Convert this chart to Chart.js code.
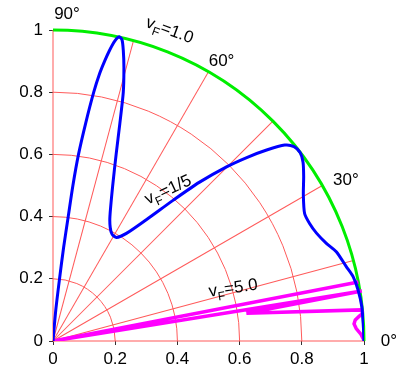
<!DOCTYPE html>
<html lang="en">
<head>
  <meta charset="UTF-8" />
  <title>Polar velocity plot</title>
  <style>
  body {
    margin: 0;
    padding: 0;
    background: #ffffff;
  }
  #chartBox {
    width: 409px;
    height: 374px;
  }
  </style>
  <script src="https://cdn.jsdelivr.net/npm/chart.js"></script>
</head>
<body>
  <div id="chartBox">
    <canvas id="polarChart" width="409" height="374"></canvas>
  </div>

  <script>
  // axis ticks
  const tickValues = [0, 0.2, 0.4, 0.6, 0.8, 1];
  const tickLabels = ['0', '0.2', '0.4', '0.6', '0.8', '1'];

  // polar grid
  const ringRadii = [0.2, 0.4, 0.6, 0.8];
  const spokeAngles = [0, 15, 30, 45, 60, 75, 90];
  const outerRadius = 1;
  const angleLabels = ['0°', '30°', '60°', '90°'];
  const curveNames = ['1.0', '1/5', '5.0'];

  // v_F = 1.0 and 1/5 curve (blue)
  const blueX = [0, 0.009, 0.021, 0.034, 0.049, 0.064, 0.082, 0.105, 0.131, 0.15, 0.166, 0.182, 0.199, 0.213,
    0.222, 0.226, 0.228, 0.226, 0.215, 0.203, 0.192, 0.183, 0.184, 0.19, 0.204, 0.236, 0.3, 0.387, 0.47,
    0.558, 0.623, 0.687, 0.745, 0.775, 0.795, 0.804, 0.806, 0.805, 0.809, 0.825, 0.848, 0.879, 0.911,
    0.943, 0.965, 0.981, 0.993, 0.998, 1.0];
  const blueY = [0, 0.1, 0.2, 0.3, 0.4, 0.5, 0.6, 0.7, 0.8, 0.86, 0.9, 0.935, 0.965, 0.978,
    0.968, 0.935, 0.88, 0.8, 0.7, 0.6, 0.5, 0.4, 0.365, 0.343, 0.333, 0.346, 0.39, 0.453, 0.51,
    0.56, 0.59, 0.614, 0.63, 0.625, 0.605, 0.575, 0.53, 0.47, 0.41, 0.378, 0.346, 0.314, 0.287,
    0.239, 0.207, 0.164, 0.11, 0.046, 0];

  // v_F = 5.0 curve (magenta)
  const magentaX = [1.0, 0.99, 0.975, 0.968, 0.972, 0.985, 0.997, 0.99, 0.622, 0.993, 0, 0.982];
  const magentaY = [0.003, 0.022, 0.04, 0.055, 0.068, 0.08, 0.09, 0.1, 0.089, 0.161, 0, 0.19];

  const toPoints = (xs, ys) => xs.map((x, i) => ({ x: x, y: ys[i] }));

  const FONT = '"Liberation Sans", Arial, sans-serif';
  const GRID_RED = '#ff5a5a';

  // draws red rings/spokes and the green unit arc under the curves
  const polarGrid = {
    id: 'polarGrid',
    beforeDatasetsDraw(chart) {
      const { ctx, scales } = chart;
      const xs = scales.x, ys = scales.y;
      const cx = xs.getPixelForValue(0);
      const cy = ys.getPixelForValue(0);
      const px = r => xs.getPixelForValue(r) - cx;
      const py = r => cy - ys.getPixelForValue(r);

      ctx.save();
      ctx.lineWidth = 1;
      ctx.strokeStyle = GRID_RED;
      ringRadii.forEach(r => {
        ctx.beginPath();
        ctx.ellipse(cx, cy, px(r), py(r), 0, -Math.PI / 2, 0);
        ctx.stroke();
      });

      // spokes as thin filled strips
      ctx.fillStyle = GRID_RED;
      spokeAngles.forEach(a => {
        const t = a * Math.PI / 180;
        const ex = xs.getPixelForValue(outerRadius * Math.cos(t));
        const ey = ys.getPixelForValue(outerRadius * Math.sin(t));
        const len = Math.hypot(ex - cx, ey - cy);
        const nx = -(ey - cy) / len * 0.5;
        const ny = (ex - cx) / len * 0.5;
        ctx.beginPath();
        ctx.moveTo(cx + nx, cy + ny);
        ctx.lineTo(ex + nx, ey + ny);
        ctx.lineTo(ex - nx, ey - ny);
        ctx.lineTo(cx - nx, cy - ny);
        ctx.closePath();
        ctx.fill();
      });

      ctx.strokeStyle = '#00ee00';
      ctx.lineWidth = 3;
      ctx.beginPath();
      ctx.ellipse(cx, cy, px(outerRadius), py(outerRadius), 0, -Math.PI / 2, 0);
      ctx.stroke();
      ctx.restore();
    },
    afterDatasetsDraw(chart) {
      const { ctx, scales } = chart;
      const xs = scales.x, ys = scales.y;
      const P = (x, y) => [xs.getPixelForValue(x), ys.getPixelForValue(y)];

      ctx.save();
      ctx.fillStyle = '#000';
      ctx.textAlign = 'center';
      ctx.textBaseline = 'middle';
      ctx.font = '17px ' + FONT;
      const anglePos = [[1.08, 0.0], [0.942, 0.518], [0.542, 0.898], [0.045, 1.05]];
      angleLabels.forEach((t, i) => {
        const [x, y] = P(anglePos[i][0], anglePos[i][1]);
        ctx.fillText(t, x, y);
      });

      const namePos = [[0.375, 0.999, 20], [0.37, 0.486, -25], [0.579, 0.17, -8.5]];
      curveNames.forEach((name, i) => {
        const [x, y] = P(namePos[i][0], namePos[i][1]);
        drawVF(ctx, x, y, namePos[i][2], name);
      });
      ctx.restore();
    }
  };

  function drawVF(ctx, x, y, deg, value) {
    ctx.save();
    ctx.translate(x, y);
    ctx.rotate(deg * Math.PI / 180);
    ctx.textAlign = 'left';
    ctx.textBaseline = 'alphabetic';
    ctx.font = '17px ' + FONT;
    const wv = ctx.measureText('v').width;
    const rest = '=' + value;
    const wr = ctx.measureText(rest).width;
    ctx.font = '12px ' + FONT;
    const wf = ctx.measureText('F').width;
    const total = wv + wf + wr;
    let cur = -total / 2;
    ctx.font = '17px ' + FONT;
    ctx.fillText('v', cur, 5);
    cur += wv;
    ctx.font = '12px ' + FONT;
    ctx.fillText('F', cur, 10);
    cur += wf;
    ctx.font = '17px ' + FONT;
    ctx.fillText(rest, cur, 5);
    ctx.restore();
  }

  const axisSetup = {
    type: 'linear',
    min: 0,
    max: 1,
    afterBuildTicks: scale => { scale.ticks = tickValues.map(v => ({ value: v })); },
    ticks: {
      color: '#000',
      font: { size: 17, family: FONT },
      callback: (v, i) => tickLabels[i],
      autoSkip: false,
      maxRotation: 0
    },
    grid: {
      drawOnChartArea: false,
      drawTicks: true,
      tickLength: 4,
      color: '#333'
    },
    border: { display: false }
  };

  new Chart(document.getElementById('polarChart').getContext('2d'), {
    type: 'scatter',
    data: {
      datasets: [
        {
          data: toPoints(blueX, blueY),
          showLine: true,
          borderColor: '#0000ff',
          borderWidth: 3,
          pointRadius: 0,
          tension: 0.25,
          fill: false
        },
        {
          data: toPoints(magentaX, magentaY),
          showLine: true,
          borderColor: '#ff00ff',
          borderWidth: 3.5,
          pointRadius: 0,
          tension: 0,
          fill: false
        }
      ]
    },
    options: {
      responsive: false,
      animation: false,
      layout: { padding: { top: 30, right: 45, left: 0, bottom: 0 } },
      plugins: {
        legend: { display: false },
        tooltip: { enabled: false }
      },
      scales: {
        x: Object.assign({}, axisSetup, {
          ticks: Object.assign({}, axisSetup.ticks, { padding: 4 }),
          afterFit: s => { s.height = 33; }
        }),
        y: Object.assign({}, axisSetup, {
          ticks: Object.assign({}, axisSetup.ticks, { padding: 6 }),
          afterFit: s => { s.width = 53; }
        })
      }
    },
    plugins: [polarGrid]
  });
  </script>
</body>
</html>
